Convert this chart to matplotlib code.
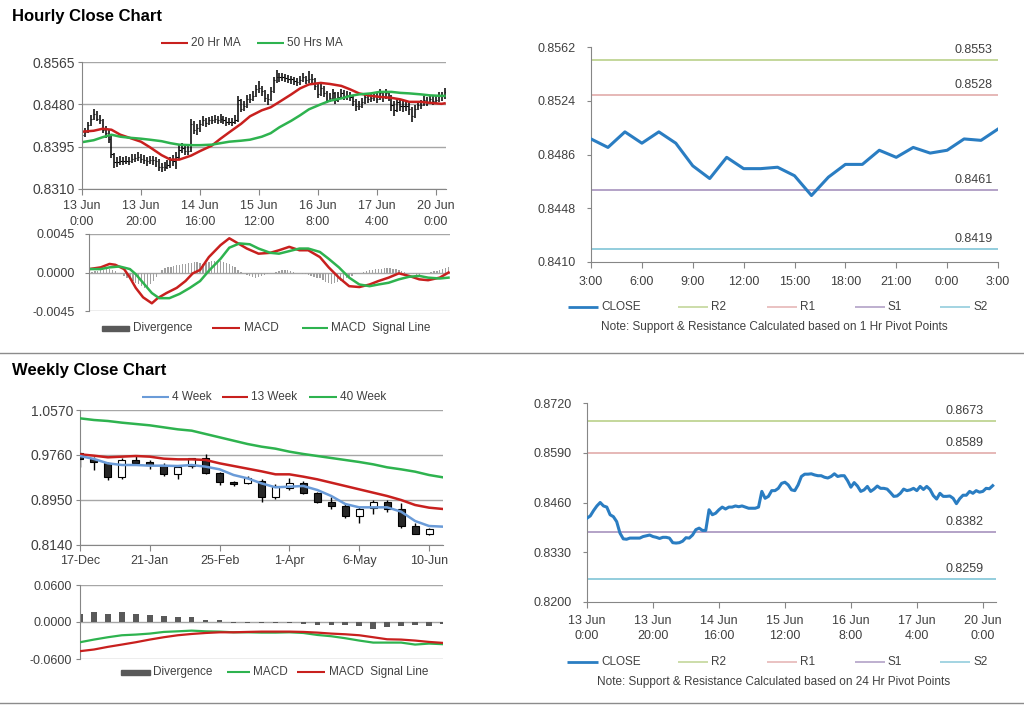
import matplotlib
matplotlib.use('Agg')
import matplotlib.pyplot as plt
from matplotlib.lines import Line2D
from matplotlib.patches import Rectangle
import numpy as np

plt.rcParams['font.family'] = ['Liberation Sans', 'DejaVu Sans']

# ---------------- DATA ----------------
hourly_ticks = ['13 Jun\n0:00', '13 Jun\n20:00', '14 Jun\n16:00', '15 Jun\n12:00',
                '16 Jun\n8:00', '17 Jun\n4:00', '20 Jun\n0:00']

hourly_close = [
    0.8419, 0.8425, 0.8439, 0.8451, 0.8460, 0.8451, 0.8448, 0.8428, 0.8423, 0.8410,
    0.8380, 0.8365, 0.8364, 0.8367, 0.8367, 0.8367, 0.8367, 0.8371, 0.8373, 0.8375,
    0.8371, 0.8369, 0.8366, 0.8369, 0.8369, 0.8367, 0.8355, 0.8354, 0.8355, 0.8359,
    0.8368, 0.8367, 0.8375, 0.8389, 0.8393, 0.8387, 0.8387, 0.8441, 0.8428, 0.8432,
    0.8441, 0.8448, 0.8443, 0.8448, 0.8448, 0.8451, 0.8449, 0.8451, 0.8448, 0.8445,
    0.8445, 0.8445, 0.8448, 0.8489, 0.8471, 0.8476, 0.8491, 0.8491, 0.8497, 0.8510,
    0.8513, 0.8506, 0.8493, 0.8491, 0.8506, 0.8528, 0.8534, 0.8534, 0.8535, 0.8532,
    0.8530, 0.8530, 0.8526, 0.8524, 0.8528, 0.8535, 0.8528, 0.8530, 0.8530, 0.8517,
    0.8500, 0.8512, 0.8503, 0.8489, 0.8493, 0.8502, 0.8489, 0.8495, 0.8503, 0.8497,
    0.8497, 0.8495, 0.8486, 0.8476, 0.8477, 0.8484, 0.8495, 0.8491, 0.8493, 0.8497,
    0.8491, 0.8502, 0.8494, 0.8502, 0.8494, 0.8478, 0.8469, 0.8484, 0.8476, 0.8476,
    0.8477, 0.8471, 0.8457, 0.8470, 0.8479, 0.8479, 0.8489, 0.8484, 0.8491, 0.8487,
    0.8489, 0.8497, 0.8496, 0.8504]

hourly_high = [
    0.8428, 0.8432, 0.8445, 0.8458, 0.8470, 0.8466, 0.8458, 0.8450, 0.8436, 0.8428,
    0.8418, 0.8383, 0.8374, 0.8376, 0.8375, 0.8377, 0.8374, 0.8380, 0.8381, 0.8384,
    0.8380, 0.8378, 0.8375, 0.8376, 0.8377, 0.8374, 0.8370, 0.8362, 0.8364, 0.8368,
    0.8374, 0.8378, 0.8384, 0.8398, 0.8402, 0.8398, 0.8396, 0.8450, 0.8446, 0.8440,
    0.8448, 0.8456, 0.8452, 0.8455, 0.8456, 0.8459, 0.8457, 0.8460, 0.8456, 0.8454,
    0.8453, 0.8452, 0.8458, 0.8496, 0.8490, 0.8486, 0.8498, 0.8500, 0.8506, 0.8518,
    0.8527, 0.8516, 0.8508, 0.8500, 0.8514, 0.8534, 0.8548, 0.8542, 0.8543, 0.8540,
    0.8538, 0.8537, 0.8534, 0.8532, 0.8536, 0.8542, 0.8537, 0.8547, 0.8540, 0.8532,
    0.8520, 0.8522, 0.8516, 0.8506, 0.8502, 0.8510, 0.8504, 0.8504, 0.8511, 0.8508,
    0.8506, 0.8504, 0.8498, 0.8490, 0.8486, 0.8492, 0.8503, 0.8502, 0.8502, 0.8505,
    0.8504, 0.8510, 0.8506, 0.8510, 0.8506, 0.8498, 0.8486, 0.8492, 0.8490, 0.8486,
    0.8486, 0.8484, 0.8474, 0.8478, 0.8487, 0.8488, 0.8496, 0.8494, 0.8499, 0.8497,
    0.8498, 0.8504, 0.8505, 0.8512]

hourly_low = [
    0.8412, 0.8415, 0.8422, 0.8436, 0.8448, 0.8446, 0.8440, 0.8422, 0.8413, 0.8402,
    0.8372, 0.8352, 0.8355, 0.8358, 0.8359, 0.8360, 0.8358, 0.8362, 0.8364, 0.8366,
    0.8363, 0.8361, 0.8357, 0.8360, 0.8358, 0.8355, 0.8346, 0.8344, 0.8347, 0.8350,
    0.8352, 0.8357, 0.8350, 0.8370, 0.8382, 0.8379, 0.8378, 0.8385, 0.8420, 0.8418,
    0.8425, 0.8436, 0.8434, 0.8438, 0.8440, 0.8442, 0.8440, 0.8442, 0.8440, 0.8437,
    0.8438, 0.8436, 0.8440, 0.8445, 0.8464, 0.8466, 0.8472, 0.8482, 0.8486, 0.8494,
    0.8502, 0.8496, 0.8485, 0.8478, 0.8486, 0.8503, 0.8522, 0.8525, 0.8527, 0.8524,
    0.8522, 0.8521, 0.8518, 0.8516, 0.8519, 0.8524, 0.8520, 0.8522, 0.8520, 0.8508,
    0.8492, 0.8496, 0.8494, 0.8482, 0.8484, 0.8488, 0.8480, 0.8484, 0.8490, 0.8488,
    0.8489, 0.8486, 0.8476, 0.8466, 0.8468, 0.8472, 0.8480, 0.8482, 0.8484, 0.8486,
    0.8482, 0.8488, 0.8485, 0.8490, 0.8486, 0.8466, 0.8456, 0.8464, 0.8466, 0.8464,
    0.8466, 0.8458, 0.8444, 0.8452, 0.8468, 0.8470, 0.8476, 0.8476, 0.8480, 0.8478,
    0.8480, 0.8485, 0.8486, 0.8490]

ma_hours = [0, 4, 7, 10, 13, 16, 20, 23, 27, 30, 33, 37, 40, 44, 47, 50, 54, 57, 61,
            64, 67, 71, 74, 77, 81, 84, 88, 91, 94, 98, 101, 105, 108, 111, 115, 118,
            122, 123]
ma20_hr = [0.8425, 0.8427, 0.8431, 0.8429, 0.8419, 0.8413, 0.8405, 0.8394, 0.8378,
           0.8369, 0.8369, 0.8377, 0.8386, 0.8397, 0.8411, 0.8424, 0.8441, 0.8456,
           0.8468, 0.8474, 0.8485, 0.8500, 0.8512, 0.8520, 0.8523, 0.8521, 0.8517,
           0.8510, 0.8502, 0.8497, 0.8495, 0.8493, 0.8490, 0.8485, 0.8485, 0.8483,
           0.8481, 0.8482]
ma50_hr = [0.8404, 0.8408, 0.8414, 0.8419, 0.8415, 0.8413, 0.8411, 0.8409, 0.8406,
           0.8402, 0.8399, 0.8398, 0.8398, 0.8399, 0.8402, 0.8405, 0.8407, 0.8409,
           0.8415, 0.8422, 0.8434, 0.8447, 0.8458, 0.8470, 0.8480, 0.8487, 0.8492,
           0.8497, 0.8500, 0.8502, 0.8505, 0.8505, 0.8503, 0.8502, 0.8500, 0.8498,
           0.8497, 0.8497]

macd_hours = [0, 4, 7, 9, 12, 14, 16, 18.5, 21.5, 23.5, 26.5, 30, 33, 35.5, 38, 41, 45,
              48, 50, 54, 58, 62, 65, 68.5, 72, 75, 79, 82, 85.5, 89, 92.5, 96, 99,
              102.5, 106, 109.5, 113, 116, 120, 123]
macd_hr = [0.0004, 0.0006, 0.0010, 0.0009, 0.0004, -0.0006, -0.0018, -0.0029, -0.0036,
           -0.0030, -0.0024, -0.0018, -0.0010, -0.0001, 0.0003, 0.0018, 0.0032, 0.0040,
           0.0036, 0.0028, 0.0022, 0.0023, 0.0026, 0.0030, 0.0026, 0.0026, 0.0018,
           0.0006, -0.0006, -0.0016, -0.0017, -0.0014, -0.0010, -0.0006, -0.0001,
           -0.0004, -0.0008, -0.0009, -0.0006, 0.0000]
signal_hours = [0, 4, 7, 10.5, 14, 16, 18.5, 21.5, 24, 27.5, 31, 34.5, 38, 41, 45, 48,
                51.5, 55, 58, 62, 65, 68.5, 72, 75, 79, 82, 85.5, 89, 92.5, 96, 99,
                102.5, 106, 109.5, 113, 116, 120, 123]
signal_hr = [0.0004, 0.0004, 0.0006, 0.0007, 0.0004, -0.0002, -0.0012, -0.0024, -0.0030,
             -0.0030, -0.0025, -0.0018, -0.0010, 0.0002, 0.0016, 0.0029, 0.0034, 0.0033,
             0.0028, 0.0023, 0.0022, 0.0025, 0.0028, 0.0028, 0.0024, 0.0016, 0.0006,
             -0.0006, -0.0014, -0.0016, -0.0014, -0.0012, -0.0008, -0.0005, -0.0004,
             -0.0006, -0.0007, -0.0006]
divergence_hr = [
    0.0000, 0.0001, 0.0002, 0.0002, 0.0003, 0.0003, 0.0004, 0.0004, 0.0003, 0.0002,
    0.0000, -0.0002, -0.0004, -0.0006, -0.0008, -0.0010, -0.0012, -0.0014, -0.0016, -0.0018,
    -0.0017, -0.0014, -0.0010, -0.0005, 0.0000, 0.0003, 0.0005, 0.0006, 0.0007, 0.0008,
    0.0009, 0.0009, 0.0010, 0.0010, 0.0011, 0.0011, 0.0012, 0.0012, 0.0011, 0.0010,
    0.0011, 0.0012, 0.0013, 0.0014, 0.0014, 0.0013, 0.0012, 0.0011, 0.0010, 0.0008,
    0.0006, 0.0003, 0.0001, -0.0001, -0.0003, -0.0004, -0.0005, -0.0006, -0.0005, -0.0004,
    -0.0003, -0.0002, -0.0001, 0.0000, 0.0001, 0.0002, 0.0003, 0.0003, 0.0003, 0.0002,
    0.0001, 0.0000, -0.0001, -0.0002, -0.0002, -0.0003, -0.0004, -0.0005, -0.0006, -0.0007,
    -0.0009, -0.0011, -0.0012, -0.0013, -0.0012, -0.0011, -0.0010, -0.0009, -0.0007, -0.0005,
    -0.0004, -0.0002, -0.0001, 0.0000, 0.0001, 0.0002, 0.0003, 0.0003, 0.0004, 0.0004,
    0.0004, 0.0005, 0.0005, 0.0005, 0.0004, 0.0004, 0.0003, 0.0002, 0.0001, 0.0000,
    -0.0001, -0.0002, -0.0003, -0.0003, -0.0002, -0.0001, 0.0000, 0.0001, 0.0002, 0.0002,
    0.0003, 0.0004, 0.0005, 0.0006]

last24_ticks = ['3:00', '6:00', '9:00', '12:00', '15:00', '18:00', '21:00', '0:00', '3:00']

sr_names = ['R2', 'R1', 'S1', 'S2']
sr_1hr = [0.8553, 0.8528, 0.8461, 0.8419]
sr_24hr = [0.8673, 0.8589, 0.8382, 0.8259]

week_ticks = ['17-Dec', '21-Jan', '25-Feb', '1-Apr', '6-May', '10-Jun']
w_open = [0.9790, 0.9688, 0.9610, 0.9358, 0.9670, 0.9628, 0.9580, 0.9418, 0.9562, 0.9700,
          0.9430, 0.9280, 0.9250, 0.9298, 0.9010, 0.9160, 0.9250, 0.9070, 0.8908, 0.8848,
          0.8662, 0.8800, 0.8908, 0.8788, 0.8488, 0.8338]
w_close = [0.9682, 0.9640, 0.9358, 0.9670, 0.9622, 0.9580, 0.9412, 0.9550, 0.9700, 0.9430,
           0.9280, 0.9244, 0.9340, 0.9010, 0.9202, 0.9250, 0.9070, 0.8908, 0.8848, 0.8662,
           0.8782, 0.8920, 0.8788, 0.8488, 0.8338, 0.8428]
w_high = [0.9820, 0.9718, 0.9640, 0.9700, 0.9760, 0.9670, 0.9622, 0.9580, 0.9712, 0.9778,
          0.9460, 0.9298, 0.9382, 0.9322, 0.9232, 0.9340, 0.9298, 0.9100, 0.9000, 0.8878,
          0.8818, 0.8950, 0.8950, 0.8890, 0.8530, 0.8452]
w_low = [0.9550, 0.9490, 0.9310, 0.9328, 0.9610, 0.9502, 0.9388, 0.9322, 0.9520, 0.9418,
         0.9220, 0.9202, 0.9232, 0.8920, 0.8962, 0.9130, 0.9052, 0.8890, 0.8782, 0.8632,
         0.8530, 0.8692, 0.8728, 0.8440, 0.8332, 0.8320]
w_ma4 = [0.9742, 0.9688, 0.9610, 0.9580, 0.9580, 0.9568, 0.9568, 0.9562, 0.9580, 0.9550,
         0.9502, 0.9400, 0.9340, 0.9250, 0.9178, 0.9190, 0.9202, 0.9130, 0.9022, 0.8878,
         0.8818, 0.8818, 0.8818, 0.8740, 0.8572, 0.8482, 0.8470]
w_ma13 = [0.9772, 0.9748, 0.9718, 0.9730, 0.9742, 0.9730, 0.9694, 0.9682, 0.9682, 0.9670,
          0.9610, 0.9562, 0.9514, 0.9466, 0.9412, 0.9412, 0.9370, 0.9322, 0.9262, 0.9202,
          0.9142, 0.9082, 0.9022, 0.8950, 0.8860, 0.8812, 0.8788]
w_ma40 = [1.0420, 1.0390, 1.0372, 1.0342, 1.0318, 1.0294, 1.0258, 1.0222, 1.0198, 1.0138,
          1.0078, 1.0018, 0.9958, 0.9910, 0.9874, 0.9820, 0.9778, 0.9742, 0.9706, 0.9670,
          0.9634, 0.9592, 0.9538, 0.9502, 0.9460, 0.9400, 0.9358]
w_div = [0.0129, 0.0156, 0.0129, 0.0156, 0.0129, 0.0108, 0.0091, 0.0075, 0.0075, 0.0027,
         0.0027, -0.0022, -0.0016, -0.0016, -0.0016, -0.0016, -0.0027, -0.0043, -0.0054,
         -0.0054, -0.0070, -0.0108, -0.0086, -0.0070, -0.0054, -0.0070, -0.0040]
w_macd = [-0.0328, -0.0285, -0.0247, -0.0215, -0.0204, -0.0188, -0.0161, -0.0151, -0.0140,
          -0.0151, -0.0156, -0.0167, -0.0167, -0.0172, -0.0172, -0.0167, -0.0178, -0.0210,
          -0.0231, -0.0263, -0.0301, -0.0334, -0.0334, -0.0334, -0.0366, -0.0350, -0.0360]
w_signal = [-0.0473, -0.0446, -0.0403, -0.0366, -0.0328, -0.0285, -0.0247, -0.0215, -0.0194,
            -0.0178, -0.0167, -0.0167, -0.0161, -0.0156, -0.0156, -0.0156, -0.0161, -0.0172,
            -0.0188, -0.0199, -0.0215, -0.0247, -0.0280, -0.0285, -0.0301, -0.0323, -0.0339]

# ---------------- STYLE ----------------
RED = '#c8201e'
GREEN = '#2eb34f'
BLUE = '#2a7dc2'
WBLUE = '#6a9bd8'
SR_COLORS = ['#c4d79b', '#e6b8b7', '#b3a2c7', '#93cddd']
SPINE = '#868686'
GRID = '#a6a6a6'
TXT = '#404040'

W, H = 1024, 706
fig = plt.figure(figsize=(W / 100, H / 100), dpi=100)


def rect(l, t, r, b):
    return [l / W, 1 - b / H, (r - l) / W, (b - t) / H]


def style(ax, grid, ypad, xticks=True, xpad=3, ysize=9):
    for s in ['top', 'right']:
        ax.spines[s].set_visible(False)
    ax.spines['left'].set_color(SPINE)
    ax.spines['bottom'].set_color(SPINE)
    ax.tick_params(axis='y', colors=SPINE, labelcolor=TXT, labelsize=ysize,
                   length=3, pad=ypad, direction='out')
    ax.tick_params(axis='x', colors=SPINE, labelcolor=TXT, labelsize=9,
                   length=4, pad=xpad, direction='out')
    if grid:
        ax.yaxis.grid(True, color=GRID, lw=1)
        ax.set_axisbelow(True)
    if not xticks:
        ax.spines['bottom'].set_visible(False)
        ax.tick_params(axis='x', length=0, labelbottom=False)
    ax.patch.set_alpha(0)


def leg_line(x0, x1, y, color, lw=1.5):
    fig.add_artist(Line2D([x0 / W, x1 / W], [1 - y / H] * 2, color=color, lw=lw,
                          solid_capstyle='butt'))


def leg_box(x0, x1, y, color, h=5):
    fig.add_artist(Rectangle((x0 / W, 1 - (y + h / 2) / H), (x1 - x0) / W, h / H,
                             color=color, transform=fig.transFigure))


def leg_text(x, y, s, size=8.5):
    fig.text(x / W, 1 - y / H, s, fontsize=size, va='center', ha='left', color=TXT)


hours = np.arange(len(hourly_close))

# titles and separators
fig.text(12 / W, 1 - 16 / H, 'Hourly Close Chart', fontsize=12, fontweight='bold',
         va='center', ha='left', color='black')
fig.text(12 / W, 1 - 371 / H, 'Weekly Close Chart', fontsize=12, fontweight='bold',
         va='center', ha='left', color='black')
fig.add_artist(Line2D([0, 1], [1 - 353 / H] * 2, color='#8c8c8c', lw=1))
fig.add_artist(Line2D([0, 1], [1 - 703 / H] * 2, color='#8c8c8c', lw=1))

# ---- Panel 1: hourly bars + MAs
ax1 = fig.add_axes(rect(82, 62, 446, 189))
ax1.vlines(hours, hourly_low, hourly_high, color='black', lw=1.1)
ax1.hlines(hourly_close, hours, hours + 0.45, color='black', lw=0.8)
ax1.plot(ma_hours, ma20_hr, color=RED, lw=1.8)
ax1.plot(ma_hours, ma50_hr, color=GREEN, lw=1.8)
ax1.set_xlim(0, 123.5)
ax1.set_ylim(0.8310, 0.8565)
ax1.set_yticks([0.8310, 0.8395, 0.8480, 0.8565])
ax1.set_yticklabels(['0.8310', '0.8395', '0.8480', '0.8565'])
ax1.set_xticks([0, 20, 40, 60, 80, 100, 120])
ax1.set_xticklabels(hourly_ticks, linespacing=1.4)
style(ax1, True, 2, xpad=4, ysize=10)
leg_line(161, 188, 43, RED)
leg_text(191, 43, '20 Hr MA')
leg_line(257, 284, 43, GREEN)
leg_text(287, 43, '50 Hrs MA')

# ---- Panel 2: hourly MACD
ax2 = fig.add_axes(rect(89, 234, 450, 311))
ax2.bar(hours, divergence_hr, width=0.45, color='#a0a0a0')
ax2.plot(macd_hours, macd_hr, color=RED, lw=1.8)
ax2.plot(signal_hours, signal_hr, color=GREEN, lw=1.8)
ax2.set_xlim(0, 123.5)
ax2.set_ylim(-0.0045, 0.0045)
ax2.set_yticks([-0.0045, 0.0, 0.0045])
ax2.set_yticklabels(['-0.0045', '0.0000', '0.0045'])
style(ax2, True, 7, xticks=False)
leg_box(102, 129, 328, '#595959')
leg_text(133, 328, 'Divergence')
leg_line(212, 240, 328, RED)
leg_text(244, 328, 'MACD')
leg_line(302, 328, 328, GREEN)
leg_text(331, 328, 'MACD  Signal Line')

# ---- Panel 3: last 24 hours with 1 hr pivots
ax3 = fig.add_axes(rect(591, 47, 998, 262))
x3 = np.arange(len(hourly_close[-25:]))
ax3.plot(x3, hourly_close[-25:], color=BLUE, lw=2.2, zorder=3)
for v, c in zip(sr_1hr, SR_COLORS):
    ax3.axhline(v, color=c, lw=1.4, zorder=2)
    ax3.annotate(f'{v:.4f}', xy=(1, v), xycoords=('axes fraction', 'data'),
                 xytext=(-4, 3), textcoords='offset points', ha='right', va='bottom',
                 fontsize=9, color=TXT)
ax3.set_xlim(0, 24)
ax3.set_ylim(0.8410, 0.8562)
ax3.set_yticks([0.8410, 0.8448, 0.8486, 0.8524, 0.8562])
ax3.set_yticklabels(['0.8410', '0.8448', '0.8486', '0.8524', '0.8562'])
ax3.set_xticks(range(0, 25, 3))
ax3.set_xticklabels(last24_ticks)
style(ax3, False, 8, xpad=6)
leg_line(568, 598, 307, BLUE, 2)
leg_text(601, 307, 'CLOSE')
for x0, name, c in zip([678, 767, 855, 940], sr_names, SR_COLORS):
    leg_line(x0, x0 + 30, 307, c, 1.2)
    leg_text(x0 + 33, 307, name)
fig.text(774 / W, 1 - 327 / H,
         'Note: Support & Resistance Calculated based on 1 Hr Pivot Points',
         fontsize=8.5, ha='center', va='center', color=TXT)

# ---- Panel 4: weekly candles
ax4 = fig.add_axes(rect(80, 410, 443, 545))
widx = np.arange(len(w_open))
ax4.vlines(widx, w_low, w_high, color='black', lw=1, zorder=2)
bodies_bottom = np.minimum(w_open, w_close)
bodies_h = np.abs(np.array(w_close) - np.array(w_open))
face = ['#262626' if c < o else 'white' for o, c in zip(w_open, w_close)]
ax4.bar(widx, bodies_h, bottom=bodies_bottom, width=0.5, color=face,
        edgecolor='black', lw=0.8, zorder=3)
midx = np.arange(len(w_ma4))
ax4.plot(midx, w_ma40, color=GREEN, lw=1.8, zorder=4)
ax4.plot(midx, w_ma13, color=RED, lw=1.8, zorder=4)
ax4.plot(midx, w_ma4, color=WBLUE, lw=1.8, zorder=4)
ax4.set_xlim(0, 26)
ax4.set_ylim(0.8140, 1.0570)
ax4.set_yticks([0.8140, 0.8950, 0.9760, 1.0570])
ax4.set_yticklabels(['0.8140', '0.8950', '0.9760', '1.0570'])
ax4.set_xticks([0, 5, 10, 15, 20, 25])
ax4.set_xticklabels(week_ticks)
style(ax4, True, 2, xpad=3, ysize=10)
leg_line(142, 169, 397, WBLUE)
leg_text(172, 397, '4 Week')
leg_line(222, 248, 397, RED)
leg_text(251, 397, '13 Week')
leg_line(309, 337, 397, GREEN)
leg_text(340, 397, '40 Week')

# ---- Panel 5: weekly MACD
ax5 = fig.add_axes(rect(80, 585, 443, 659))
ax5.bar(midx, w_div, width=0.4, color='#595959', zorder=2)
ax5.plot(midx, w_macd, color=GREEN, lw=1.6, zorder=3)
ax5.plot(midx, w_signal, color=RED, lw=1.6, zorder=3)
ax5.set_xlim(0, 26)
ax5.set_ylim(-0.06, 0.06)
ax5.set_yticks([-0.06, 0.0, 0.06])
ax5.set_yticklabels(['-0.0600', '0.0000', '0.0600'])
style(ax5, True, 3, xticks=False)
leg_box(121, 150, 672, '#595959')
leg_text(153, 672, 'Divergence')
leg_line(227, 250, 672, GREEN)
leg_text(253, 672, 'MACD')
leg_line(297, 325, 672, RED)
leg_text(329, 672, 'MACD  Signal Line')

# ---- Panel 6: hourly close with 24 hr pivots
ax6 = fig.add_axes(rect(587, 403, 996, 602))
ax6.plot(hours, hourly_close, color=BLUE, lw=2.2, zorder=3)
for v, c in zip(sr_24hr, SR_COLORS):
    ax6.axhline(v, color=c, lw=1.4, zorder=2)
    ax6.annotate(f'{v:.4f}', xy=(1, v), xycoords=('axes fraction', 'data'),
                 xytext=(-9, 3), textcoords='offset points', ha='right', va='bottom',
                 fontsize=9, color=TXT)
ax6.set_xlim(0, 124)
ax6.set_ylim(0.8200, 0.8720)
ax6.set_yticks([0.8200, 0.8330, 0.8460, 0.8590, 0.8720])
ax6.set_yticklabels(['0.8200', '0.8330', '0.8460', '0.8590', '0.8720'])
ax6.set_xticks([0, 20, 40, 60, 80, 100, 120])
ax6.set_xticklabels(hourly_ticks, linespacing=1.4)
style(ax6, False, 8, xpad=5)
leg_line(567, 598, 662, BLUE, 2)
leg_text(601, 662, 'CLOSE')
for x0, name, c in zip([678, 767, 855, 940], sr_names, SR_COLORS):
    leg_line(x0, x0 + 30, 662, c, 1.2)
    leg_text(x0 + 33, 662, name)
fig.text(774 / W, 1 - 682 / H,
         'Note: Support & Resistance Calculated based on 24 Hr Pivot Points',
         fontsize=8.5, ha='center', va='center', color=TXT)

fig.savefig('out.png', dpi=100)
